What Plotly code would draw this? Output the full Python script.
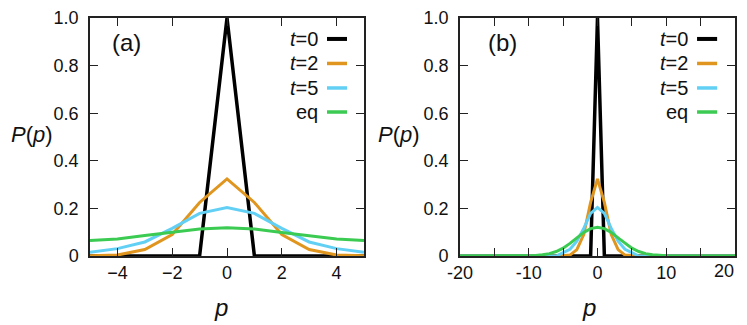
import plotly.graph_objects as go

# panel (a): momentum grid p = -5..5
p_a = [-5, -4, -3, -2, -1, 0, 1, 2, 3, 4, 5]
t0_a = [0, 0, 0, 0, 0, 1.0, 0, 0, 0, 0, 0]
t2_a = [0.001, 0.004, 0.027, 0.090, 0.225, 0.324, 0.225, 0.090, 0.027, 0.004, 0.001]
t5_a = [0.016, 0.031, 0.059, 0.116, 0.179, 0.204, 0.179, 0.116, 0.059, 0.031, 0.016]
eq_a = [0.065, 0.071, 0.086, 0.099, 0.113, 0.119, 0.113, 0.099, 0.086, 0.071, 0.065]

# panel (b): momentum grid p = -20..20
p_b = list(range(-20, 21))
t0_b = [0, 0, 0, 0, 0, 0, 0, 0, 0, 0, 0, 0, 0, 0, 0, 0, 0, 0, 0, 0,
        1.0,
        0, 0, 0, 0, 0, 0, 0, 0, 0, 0, 0, 0, 0, 0, 0, 0, 0, 0, 0, 0]
t2_b = [0, 0, 0, 0, 0, 0, 0, 0, 0, 0, 0, 0, 0, 0, 0,
        0.001, 0.004, 0.027, 0.090, 0.225, 0.324, 0.225, 0.090, 0.027, 0.004, 0.001,
        0, 0, 0, 0, 0, 0, 0, 0, 0, 0, 0, 0, 0, 0, 0]
t5_b = [0, 0, 0, 0, 0, 0, 0, 0, 0, 0, 0, 0, 0, 0, 0,
        0.014, 0.028, 0.062, 0.116, 0.179, 0.204, 0.179, 0.116, 0.062, 0.028, 0.014,
        0, 0, 0, 0, 0, 0, 0, 0, 0, 0, 0, 0, 0, 0, 0]
eq_b = [0, 0, 0, 0, 0, 0, 0, 0, 0, 0,
        0.001, 0.002, 0.005, 0.010, 0.019, 0.033, 0.053, 0.076, 0.099, 0.115,
        0.121,
        0.115, 0.099, 0.076, 0.053, 0.033, 0.019, 0.010, 0.005, 0.002, 0.001,
        0, 0, 0, 0, 0, 0, 0, 0, 0, 0]

series_names = ["<i>t</i>=0", "<i>t</i>=2", "<i>t</i>=5", "eq"]
series_colors = ["#000000", "#E0951E", "#62D0F4", "#3CCB52"]
series_widths = [3.5, 3, 3, 3]

y_ticks = [0, 0.2, 0.4, 0.6, 0.8, 1.0]
y_ticktext = ["0", "0.2", "0.4", "0.6", "0.8", "1.0"]
xa_ticks = [-4, -2, 0, 2, 4]
xb_ticks = [-20, -10, 0, 10, 20]
xb_ticktext = ["-20", "-10", "0", "10", ""]  # "20" is placed by hand, pulled in from the edge
xb_minor = [-15, -5, 5, 15]

FONT = "Liberation Sans, Arial, sans-serif"
AXIS_COLOR = "#222222"

fig = go.Figure()

panels = [
    ("x", "y", p_a, [t0_a, t2_a, t5_a, eq_a]),
    ("x2", "y2", p_b, [t0_b, t2_b, t5_b, eq_b]),
]
for xa, ya, p, curves in panels:
    for name, ys, col, w in zip(series_names, curves, series_colors, series_widths):
        fig.add_trace(go.Scatter(x=p, y=ys, mode="lines", name=name, xaxis=xa, yaxis=ya,
                                 line=dict(color=col, width=w), showlegend=False))

axis_common = dict(showline=True, linecolor=AXIS_COLOR, linewidth=1.5, mirror="ticks",
                   ticks="inside", ticklen=8, tickwidth=1.2, tickcolor=AXIS_COLOR,
                   showgrid=False, zeroline=False, ticklabeloverflow="allow",
                   automargin=False,
                   tickfont=dict(family=FONT, size=18, color="#111111"))

# the page puts the figure 8px in from the top-left corner, so size it to fit the window
fig.update_layout(
    width=739, height=317,
    margin=dict(l=82, r=12, t=10, b=69),
    plot_bgcolor="white", paper_bgcolor="white",
    font=dict(family=FONT, color="#111111"),
    xaxis=dict(domain=[0, 0.4248], range=[-5, 5], tickvals=xa_ticks,
               ticklabelstandoff=0, **axis_common),
    yaxis=dict(domain=[0, 1], range=[0, 1], tickvals=y_ticks, ticktext=y_ticktext,
               ticklabelstandoff=6, anchor="x", **axis_common),
    xaxis2=dict(domain=[0.5736, 1], range=[-20, 20], tickvals=xb_ticks, ticktext=xb_ticktext,
                minor=dict(tickvals=xb_minor, ticks="inside", ticklen=8,
                           tickwidth=1.2, tickcolor=AXIS_COLOR),
                ticklabelstandoff=0, anchor="y2", **axis_common),
    yaxis2=dict(domain=[0, 1], range=[0, 1], tickvals=y_ticks, ticktext=y_ticktext,
                ticklabelstandoff=6, anchor="x2", **axis_common),
)

fig.add_annotation(text="20", xref="x2 domain", yref="y2 domain", x=0.96, y=-0.062,
                   showarrow=False, xanchor="center", yanchor="middle",
                   font=dict(size=18, family=FONT, color="#111111"))

# panel labels, axis titles and hand-made legends (plot height is 238px)
legend_rows = [0.912, 0.809, 0.706, 0.605]
for xa, ya, tag, tag_x, ylab_x, ylab_anchor, xlab_x, leg_x, line_x0, line_x1 in [
    ("x", "y", "(a)", 0.133, -0.295, "left", 0.478, 0.839, 0.865, 0.938),
    ("x2", "y2", "(b)", 0.153, -0.222, "center", 0.47, 0.836, 0.862, 0.935),
]:
    xd, yd = f"{xa} domain", f"{ya} domain"
    fig.add_annotation(text=tag, xref=xd, yref=yd, x=tag_x, y=0.895, showarrow=False,
                       xanchor="center", yanchor="middle", font=dict(size=24, family=FONT))
    fig.add_annotation(text="<i>P</i>(<i>p</i>)", xref=xd, yref=yd, x=ylab_x, y=0.51,
                       showarrow=False, xanchor=ylab_anchor, yanchor="middle",
                       font=dict(size=22, family=FONT))
    fig.add_annotation(text="<i>p</i>", xref=xd, yref=yd, x=xlab_x, y=-0.218,
                       showarrow=False, xanchor="center", yanchor="middle",
                       font=dict(size=24, family=FONT))
    for name, col, w, ry in zip(series_names, series_colors, series_widths, legend_rows):
        fig.add_annotation(text=name, xref=xd, yref=yd, x=leg_x, y=ry, showarrow=False,
                           xanchor="right", yanchor="middle", font=dict(size=20, family=FONT))
        fig.add_shape(type="line", xref=xd, yref=yd, x0=line_x0, x1=line_x1, y0=ry, y1=ry,
                      line=dict(color=col, width=w + 0.5))

fig.write_html("out.html")
